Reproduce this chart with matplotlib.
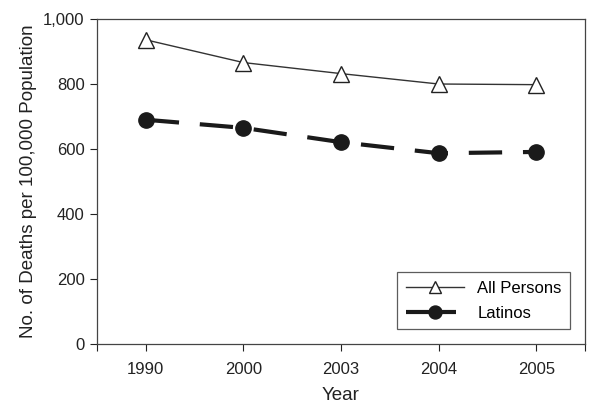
import matplotlib.pyplot as plt
from matplotlib.legend_handler import HandlerLine2D

plt.rcParams['font.family'] = ['Liberation Sans', 'DejaVu Sans']

years = ["1990", "2000", "2003", "2004", "2005"]
all_persons = [936, 866, 832, 800, 798]
latinos = [690, 665, 621, 587, 591]

fig = plt.figure(figsize=(6.01, 4.08), dpi=100)
ax = fig.add_axes([0.1614, 0.1569, 0.812, 0.7965])

x = range(len(years))
ax.plot(x, all_persons, color="#333333", lw=1.0, marker="^", ms=11,
        mfc="white", mec="#222222", mew=1.0, label="All Persons")
lat_line, = ax.plot(x, latinos, color="#1a1a1a", lw=3.0, dashes=(8, 5), marker="o", ms=11,
                    mfc="#1a1a1a", mec="#1a1a1a", label="Latinos")

ax.set_xlim(-0.5, 4.5)
ax.set_ylim(0, 1000)
ax.set_xticks(list(x))
ax.set_xticks([-0.5, 4.5], minor=True)
ax.set_xticklabels(years)
ax.set_yticks([0, 200, 400, 600, 800, 1000])
ax.set_yticklabels(["0", "200", "400", "600", "800", "1,000"])
ax.tick_params(labelsize=12, length=5, width=0.8, colors="#222222", pad=4)
ax.tick_params(axis="x", pad=8)
ax.tick_params(axis="x", which="minor", length=5, width=0.8, colors="#222222")
for s in ax.spines.values():
    s.set_color("#444444")
    s.set_linewidth(0.9)

ax.set_xlabel("Year", fontsize=13.5, color="#222222", labelpad=7)
ax.set_ylabel("No. of Deaths per 100,000 Population", fontsize=13.5, color="#222222")


def legend_dashes(legline, orig):
    legline.update_from(orig)
    legline.set_dashes((12, 2))


leg = ax.legend(loc="lower right", fontsize=12, frameon=True, fancybox=False,
                edgecolor="#333333", handlelength=3.5, borderpad=0.5,
                labelspacing=0.6, markerscale=0.85, borderaxespad=0,
                bbox_to_anchor=(0.969, 0.046),
                handler_map={lat_line: HandlerLine2D(update_func=legend_dashes)})
leg.get_frame().set_linewidth(0.9)

fig.savefig("out.png", dpi=100)
